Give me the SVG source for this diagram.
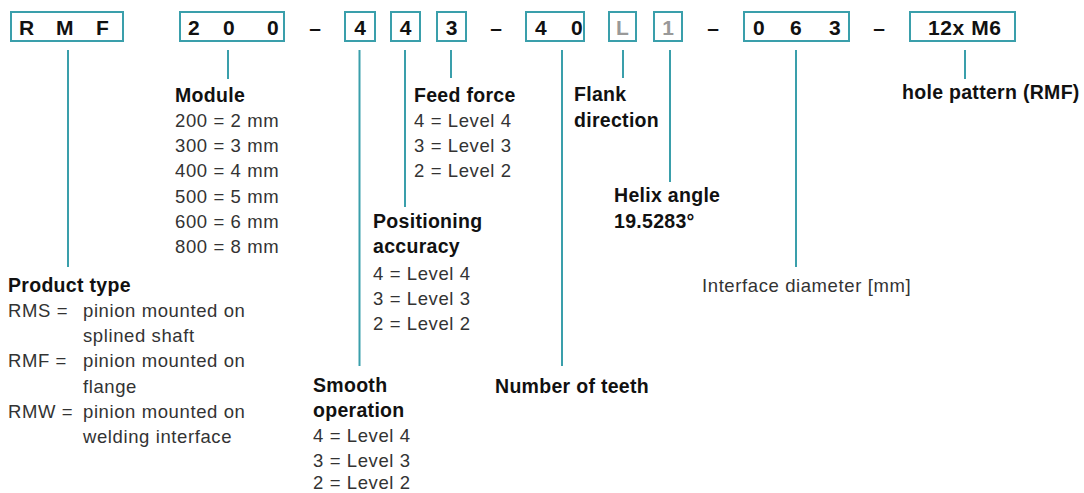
<svg xmlns="http://www.w3.org/2000/svg" width="1084" height="493" viewBox="0 0 1084 493">
<style>
.box{fill:#fff;stroke:#3a9fab;stroke-width:2}
.bt{font-family:"Liberation Sans",Arial,sans-serif;font-weight:bold;font-size:21px;fill:#111}
.gt{font-family:"Liberation Sans",Arial,sans-serif;font-weight:bold;font-size:21px;fill:#999}
.h{font-family:"Liberation Sans",Arial,sans-serif;font-weight:bold;font-size:19.5px;fill:#111;letter-spacing:0.3px}
.r{font-family:"Liberation Sans",Arial,sans-serif;font-size:18.5px;fill:#333;letter-spacing:0.6px}
.c{stroke:#3a9fab;stroke-width:2;fill:none}
</style>
<rect width="1084" height="493" fill="#fff"/>
<g id="code">
<g id="box-rmf"><rect class="box" x="11" y="12" width="112" height="29"/><text class="bt" x="19" y="35">R</text><text class="bt" x="56" y="35">M</text><text class="bt" x="96" y="35">F</text></g>
<g id="box-200"><rect class="box" x="180" y="12" width="104" height="29"/><text class="bt" x="188" y="35">2</text><text class="bt" x="223" y="35">0</text><text class="bt" x="267" y="35">0</text></g>
<text class="bt" x="315" y="35" text-anchor="middle">–</text>
<g id="box-4a"><rect class="box" x="345" y="12" width="30" height="29"/><text class="bt" x="360" y="35" text-anchor="middle">4</text></g>
<g id="box-4b"><rect class="box" x="391" y="12" width="29" height="29"/><text class="bt" x="405.5" y="35" text-anchor="middle">4</text></g>
<g id="box-3"><rect class="box" x="437" y="12" width="29" height="29"/><text class="bt" x="451.5" y="35" text-anchor="middle">3</text></g>
<text class="bt" x="496" y="35" text-anchor="middle">–</text>
<g id="box-40"><rect class="box" x="526" y="12" width="58" height="29"/><text class="bt" x="535" y="35">4</text><text class="bt" x="571" y="35">0</text></g>
<g id="box-L"><rect class="box" x="609" y="12" width="27" height="29"/><text class="gt" x="622.5" y="35" text-anchor="middle">L</text></g>
<g id="box-1"><rect class="box" x="654" y="12" width="28" height="29"/><text class="gt" x="668" y="35" text-anchor="middle">1</text></g>
<text class="bt" x="713" y="35" text-anchor="middle">–</text>
<g id="box-063"><rect class="box" x="744" y="12" width="105" height="29"/><text class="bt" x="753" y="35">0</text><text class="bt" x="790" y="35">6</text><text class="bt" x="829" y="35">3</text></g>
<text class="bt" x="879" y="35" text-anchor="middle">–</text>
<g id="box-12xM6"><rect class="box" x="910" y="12" width="105" height="29"/><text class="bt" x="928" y="35" letter-spacing="0.6">12x M6</text></g>
</g>
<g id="connectors">
<line class="c" x1="68" y1="50" x2="68" y2="267"/>
<line class="c" x1="228" y1="50" x2="228" y2="79"/>
<line class="c" x1="359.5" y1="50" x2="359.5" y2="366"/>
<line class="c" x1="405" y1="50" x2="405" y2="207"/>
<line class="c" x1="451" y1="50" x2="451" y2="78"/>
<line class="c" x1="562" y1="50" x2="562" y2="366"/>
<line class="c" x1="623" y1="50" x2="623" y2="78"/>
<line class="c" x1="670" y1="50" x2="670" y2="182"/>
<line class="c" x1="796" y1="50" x2="796" y2="267"/>
<line class="c" x1="965" y1="50" x2="965" y2="79"/>
</g>
<g id="product-type">
<text class="h" x="8" y="292">Product type</text>
<text class="r" x="8" y="317">RMS =</text><text class="r" x="83" y="317">pinion mounted on</text>
<text class="r" x="83" y="342">splined shaft</text>
<text class="r" x="8" y="367">RMF =</text><text class="r" x="83" y="367">pinion mounted on</text>
<text class="r" x="83" y="393">flange</text>
<text class="r" x="8" y="418">RMW =</text><text class="r" x="83" y="418">pinion mounted on</text>
<text class="r" x="83" y="443">welding interface</text>
</g>
<g id="module">
<text class="h" x="175" y="102">Module</text>
<text class="r" x="175" y="127">200 = 2 mm</text>
<text class="r" x="175" y="152">300 = 3 mm</text>
<text class="r" x="175" y="177">400 = 4 mm</text>
<text class="r" x="175" y="203">500 = 5 mm</text>
<text class="r" x="175" y="228">600 = 6 mm</text>
<text class="r" x="175" y="253">800 = 8 mm</text>
</g>
<g id="smooth-operation">
<text class="h" x="313" y="392">Smooth</text>
<text class="h" x="313" y="417">operation</text>
<text class="r" x="313" y="442">4 = Level 4</text>
<text class="r" x="313" y="467">3 = Level 3</text>
<text class="r" x="313" y="489">2 = Level 2</text>
</g>
<g id="positioning-accuracy">
<text class="h" x="373" y="228">Positioning</text>
<text class="h" x="373" y="253">accuracy</text>
<text class="r" x="373" y="280">4 = Level 4</text>
<text class="r" x="373" y="305">3 = Level 3</text>
<text class="r" x="373" y="330">2 = Level 2</text>
</g>
<g id="feed-force">
<text class="h" x="414" y="102">Feed force</text>
<text class="r" x="414" y="127">4 = Level 4</text>
<text class="r" x="414" y="152">3 = Level 3</text>
<text class="r" x="414" y="177">2 = Level 2</text>
</g>
<g id="number-of-teeth">
<text class="h" x="495" y="393">Number of teeth</text>
</g>
<g id="flank-direction">
<text class="h" x="574" y="101">Flank</text>
<text class="h" x="574" y="127">direction</text>
</g>
<g id="helix-angle">
<text class="h" x="614" y="202">Helix angle</text>
<text class="h" x="614" y="228">19.5283°</text>
</g>
<g id="interface-diameter">
<text class="r" x="702" y="292">Interface diameter [mm]</text>
</g>
<g id="hole-pattern">
<text class="h" x="902" y="99">hole pattern (RMF)</text>
</g>
</svg>
